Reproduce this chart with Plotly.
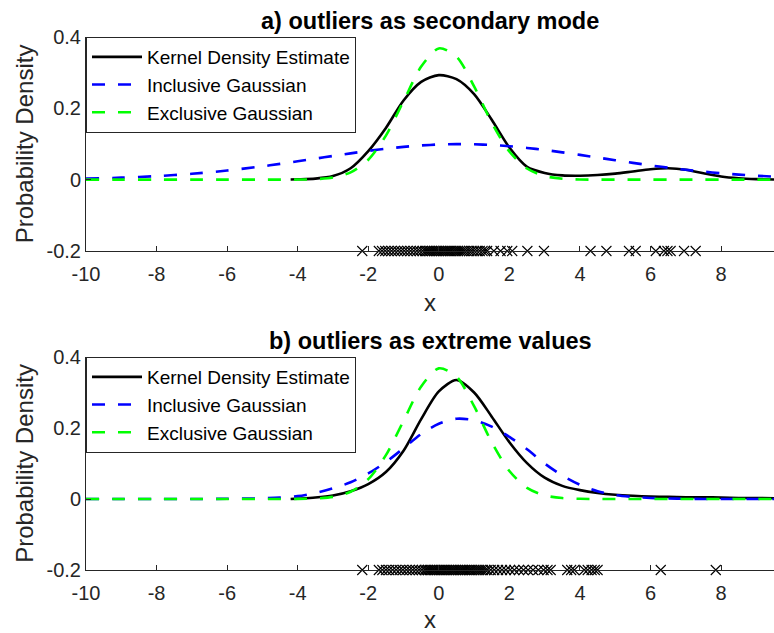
import plotly.graph_objects as go

# ---------------- data ----------------
x_dash = [-10, -9, -8, -7, -6, -5, -4.5, -4, -3.5, -3, -2.5, -2, -1.5, -1, -0.5, 0,
          0.5, 1, 1.5, 2, 2.5, 3, 3.5, 4, 4.5, 5, 5.5, 6, 6.5, 7, 7.5, 8, 8.5, 9, 9.5]

excl_gauss = [0, 0, 0, 0, 0, 0, 0.0000, 0.0003, 0.0014, 0.0060, 0.0204, 0.0559, 0.1235,
              0.2203, 0.317, 0.368, 0.345, 0.2615, 0.1597, 0.0788, 0.0313, 0.0101, 0.0026,
              0.0005, 0.0001, 0, 0, 0, 0, 0, 0, 0, 0, 0, 0]

incl_gauss_a = [0.0030, 0.0056, 0.0099, 0.0164, 0.0256, 0.0374, 0.0443, 0.0515, 0.0590,
                0.0665, 0.0738, 0.0807, 0.0867, 0.0920, 0.0959, 0.0986, 0.0997, 0.0992,
                0.0972, 0.0938, 0.0890, 0.0833, 0.0766, 0.0695, 0.0621, 0.0545, 0.0471,
                0.0401, 0.0336, 0.0277, 0.0225, 0.0180, 0.0142, 0.0110, 0.0084]

incl_gauss_b = [0, 0, 0, 0, 0.0005, 0.002, 0.004, 0.008, 0.017, 0.030, 0.047, 0.072, 0.104,
                0.143, 0.183, 0.212, 0.226, 0.222, 0.204, 0.175, 0.140, 0.100, 0.066, 0.040,
                0.022, 0.011, 0.006, 0.003, 0.0015, 0.0006, 0.0002, 0, 0, 0, 0]

x_kde = [-4.2, -4, -3.5, -3, -2.5, -2, -1.5, -1, -0.5, 0, 0.5, 1, 1.5, 2, 2.5, 3, 3.5, 4,
         4.5, 5, 5.5, 6, 6.5, 7, 7.5, 8, 8.5, 9, 9.5]

kde_a = [0.0005, 0.001, 0.003, 0.010, 0.032, 0.080, 0.145, 0.222, 0.274, 0.293, 0.282,
         0.240, 0.168, 0.090, 0.036, 0.019, 0.012, 0.011, 0.013, 0.017, 0.023, 0.029,
         0.032, 0.028, 0.018, 0.009, 0.004, 0.0015, 0.0005]

kde_b = [0.0, 0.001, 0.004, 0.010, 0.022, 0.042, 0.076, 0.136, 0.225, 0.303, 0.335, 0.300,
         0.232, 0.160, 0.101, 0.060, 0.037, 0.025, 0.017, 0.012, 0.009, 0.007, 0.006,
         0.005, 0.005, 0.004, 0.003, 0.003, 0.002]

samples_a = [-2.17,
             -1.70, -1.61, -1.52, -1.43, -1.34, -1.25, -1.16, -1.07, -0.98, -0.89, -0.80,
             -0.71, -0.62, -0.54, -0.46,
             -0.39, -0.34, -0.29, -0.24, -0.19, -0.14, -0.09, -0.04, 0.01, 0.06, 0.11,
             0.16, 0.21, 0.26, 0.31, 0.36, 0.42, 0.48, 0.54, 0.60, 0.66, 0.72, 0.79, 0.86,
             0.93, 1.00, 1.08, 1.16, 1.24, 1.31, 1.37,
             1.56, 1.75, 1.94, 2.08, 2.51, 2.98,
             4.30, 4.75, 5.39, 5.58, 6.15, 6.38, 6.48, 6.57, 6.95, 7.28]

samples_b = [-2.17,
             -1.70, -1.60, -1.50, -1.41, -1.31, -1.21, -1.11, -1.02, -0.92, -0.83, -0.74,
             -0.65, -0.56, -0.48,
             -0.40, -0.35, -0.30, -0.25, -0.20, -0.15, -0.10, -0.05, 0.00, 0.05, 0.10,
             0.14, 0.19, 0.24, 0.29, 0.34, 0.39, 0.44, 0.49, 0.54, 0.59, 0.64, 0.69, 0.74,
             0.79, 0.85, 0.90, 0.95, 1.01, 1.07, 1.13, 1.19, 1.25, 1.32, 1.38,
             1.47, 1.57, 1.68, 1.79, 1.90, 2.02, 2.14, 2.27, 2.40, 2.53, 2.67, 2.82, 2.97,
             3.08, 3.17,
             3.64, 3.75, 3.84, 4.12, 4.22, 4.33, 4.42, 4.50, 6.29, 7.85]

x_ticks = [-10, -8, -6, -4, -2, 0, 2, 4, 6, 8]
x_ticktext = ["-10", "-8", "-6", "-4", "-2", "0", "2", "4", "6", "8"]
y_ticks = [-0.2, 0, 0.2, 0.4]
y_ticktext = ["-0.2", "0", "0.2", "0.4"]

titles = ["a) outliers as secondary mode", "b) outliers as extreme values"]
series_names = ["Kernel Density Estimate", "Inclusive Gaussian", "Exclusive Gaussian"]

# ---------------- figure ----------------
FONT = "Liberation Sans, Arial, Helvetica, sans-serif"
AX = "#262626"
DASH = "13px,13px"

fig = go.Figure()

panels = [
    (kde_a, incl_gauss_a, excl_gauss, samples_a, "x", "y", "legend"),
    (kde_b, incl_gauss_b, excl_gauss, samples_b, "x2", "y2", "legend2"),
]
for kde, inc, exc, samp, xa, ya, lg in panels:
    fig.add_trace(go.Scatter(x=x_kde, y=kde, mode="lines", name=series_names[0],
                             line=dict(color="black", width=2.6, shape="spline", smoothing=0.8),
                             xaxis=xa, yaxis=ya, legend=lg))
    fig.add_trace(go.Scatter(x=x_dash, y=inc, mode="lines", name=series_names[1],
                             line=dict(color="#0000ff", width=2.6, dash=DASH, shape="spline",
                                       smoothing=0.8),
                             xaxis=xa, yaxis=ya, legend=lg))
    fig.add_trace(go.Scatter(x=x_dash, y=exc, mode="lines", name=series_names[2],
                             line=dict(color="#00ff00", width=2.6, dash=DASH, shape="spline",
                                       smoothing=0.8),
                             xaxis=xa, yaxis=ya, legend=lg))
    fig.add_trace(go.Scatter(x=samp, y=[-0.2] * len(samp), mode="markers", showlegend=False,
                             marker=dict(symbol="x-thin", size=10, color="black",
                                         line=dict(width=1.1, color="black")),
                             cliponaxis=False, xaxis=xa, yaxis=ya))

W, H = 774, 633
ml, mr, mt, mb = 86, 0, 37, 63
ph = H - mt - mb
a_bottom = (570 - 251) / ph
b_top = (570 - 357) / ph

xcommon = dict(range=[-10, 9.5], tickvals=x_ticks, ticktext=x_ticktext, ticks="inside",
               ticklen=5, tickcolor=AX, showline=True, linecolor=AX, linewidth=1,
               showgrid=False, zeroline=False, mirror=False, ticklabelstandoff=5,
               tickfont=dict(family=FONT, size=20, color=AX),
               title=dict(text="x", font=dict(family=FONT, size=24, color=AX), standoff=10))
ycommon = dict(range=[-0.2, 0.4], tickvals=y_ticks, ticktext=y_ticktext, ticks="inside",
               ticklen=5, tickcolor=AX, showline=True, linecolor=AX, linewidth=1,
               showgrid=False, zeroline=False, mirror=False,
               tickfont=dict(family=FONT, size=20, color=AX),
               title=dict(text="Probability Density", font=dict(family=FONT, size=24, color=AX),
                          standoff=6))

legcommon = dict(x=0, xanchor="left", bgcolor="white", bordercolor=AX, borderwidth=1,
                 font=dict(family=FONT, size=19, color="black"), itemwidth=50,
                 tracegroupgap=0, yanchor="top")

fig.update_layout(
    width=W, height=H,
    margin=dict(l=ml, r=mr, t=mt, b=mb),
    paper_bgcolor="white", plot_bgcolor="white",
    xaxis=dict(domain=[0, 1], anchor="y", **xcommon),
    yaxis=dict(domain=[a_bottom, 1], anchor="x", **ycommon),
    xaxis2=dict(domain=[0, 1], anchor="y2", **xcommon),
    yaxis2=dict(domain=[0, b_top], anchor="x2", **ycommon),
    legend=dict(y=1, **legcommon),
    legend2=dict(y=b_top, **legcommon),
    annotations=[
        dict(text="<b>%s</b>" % titles[0], x=0.5, y=1, xref="paper", yref="paper",
             xanchor="center", yanchor="bottom", yshift=1, showarrow=False,
             font=dict(family=FONT, size=23.5, color="black")),
        dict(text="<b>%s</b>" % titles[1], x=0.5, y=b_top, xref="paper", yref="paper",
             xanchor="center", yanchor="bottom", yshift=1, showarrow=False,
             font=dict(family=FONT, size=23.5, color="black")),
    ],
)

fig.write_html("out.html")
